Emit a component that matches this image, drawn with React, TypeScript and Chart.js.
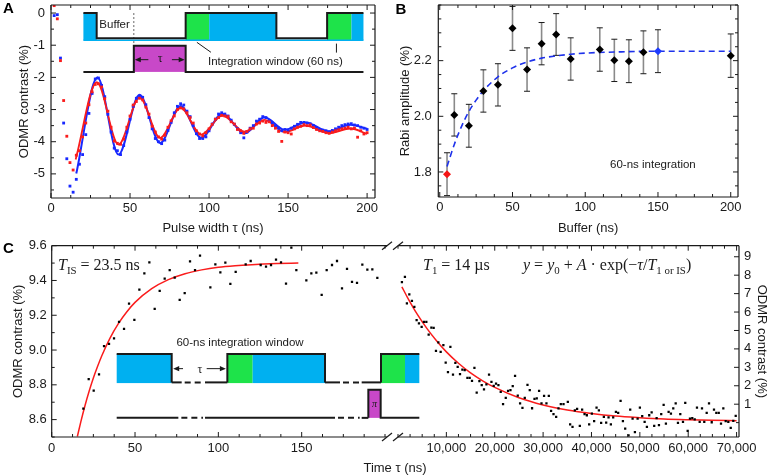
import React, { useEffect, useRef } from "react";
import { Chart, registerables } from "chart.js";

Chart.register(...registerables);

// ---------- Panel A: Rabi oscillations, two read-out settings ----------
const A_TAU = [
  2, 4, 6, 8, 10, 12, 14, 16, 18, 20, 22, 24, 26, 28, 30, 32, 34, 36, 38, 40,
  42, 44, 46, 48, 50, 52, 54, 56, 58, 60, 62, 64, 66, 68, 70, 72, 74, 76, 78, 80,
  82, 84, 86, 88, 90, 92, 94, 96, 98, 100, 102, 104, 106, 108, 110, 112, 114, 116, 118, 120,
  122, 124, 126, 128, 130, 132, 134, 136, 138, 140, 142, 144, 146, 148, 150, 152, 154, 156, 158, 160,
  162, 164, 166, 168, 170, 172, 174, 176, 178, 180, 182, 184, 186, 188, 190, 192, 194, 196, 198, 200,
];
const A_BLUE = [
  -0.08, -0.05, -1.4, -3.42, -4.53, -5.38, -5.57, -5.17, -4.7, -4.4, -3.78, -3.12, -2.5, -2.05, -2.02, -2.25, -2.6, -3.15, -3.7, -4.2,
  -4.28, -4.4, -4.12, -3.7, -3.3, -2.9, -2.65, -2.58, -2.62, -2.85, -3.25, -3.6, -3.9, -4.0, -4.06, -3.95, -3.65, -3.4, -3.1, -2.9,
  -2.82, -2.86, -3.05, -3.22, -3.5, -3.75, -3.9, -3.9, -3.85, -3.66, -3.45, -3.3, -3.14, -3.1, -3.14, -3.2, -3.33, -3.46, -3.6, -3.72,
  -3.88, -3.7, -3.58, -3.5, -3.36, -3.3, -3.22, -3.25, -3.34, -3.42, -3.5, -3.58, -3.66, -3.62, -3.66, -3.58, -3.52, -3.46, -3.4, -3.4,
  -3.42, -3.44, -3.5, -3.57, -3.62, -3.64, -3.66, -3.69, -3.65, -3.6, -3.55, -3.5, -3.47, -3.45, -3.44, -3.48, -3.5, -3.55, -3.58, -3.62,
];
const A_RED = [
  0.23, -0.18, -1.48, -2.72, -3.83, -4.65, -4.88, -4.42, -4.28, -3.85, -3.42, -2.85, -2.45, -2.22, -2.2, -2.3, -2.66, -3.05, -3.55, -3.98,
  -4.05, -4.08, -3.92, -3.55, -3.2, -2.86, -2.75, -2.65, -2.7, -2.92, -3.14, -3.52, -3.7, -3.85, -3.92, -3.8, -3.55, -3.35, -3.2, -3.0,
  -2.95, -2.98, -3.1, -3.25, -3.42, -3.66, -3.76, -3.82, -3.72, -3.6, -3.46, -3.3, -3.25, -3.18, -3.2, -3.22, -3.38, -3.45, -3.62, -3.66,
  -3.74, -3.68, -3.6, -3.58, -3.45, -3.42, -3.36, -3.4, -3.38, -3.5, -3.58, -3.68, -3.99, -3.7, -3.72, -3.76, -3.6, -3.55, -3.52, -3.47,
  -3.5, -3.48, -3.56, -3.62, -3.66, -3.68, -3.72, -3.74, -3.7, -3.66, -3.63, -3.6, -3.58, -3.55, -3.6, -3.58, -3.86, -3.66, -3.76, -3.72,
];
// fitted damped oscillations: turning points of each fit
const A_FIT_BLUE_TAU = [16, 29.4, 42.7, 56, 69, 82, 95, 108.5, 122.5, 135.2, 147.8, 161, 175.8, 189.5, 200];
const A_FIT_BLUE = [-4.99, -2.0, -4.4, -2.54, -4.04, -2.89, -3.88, -3.13, -3.74, -3.24, -3.63, -3.4, -3.68, -3.47, -3.6];
const A_FIT_RED_TAU = [15.6, 29, 42.7, 56, 69, 82, 95, 108.5, 122.5, 135.2, 147.8, 161, 176, 189.5, 200];
const A_FIT_RED = [-4.55, -2.15, -4.09, -2.62, -3.88, -2.95, -3.78, -3.19, -3.69, -3.32, -3.7, -3.5, -3.73, -3.59, -3.76];
const A_X_TICKS = [0, 50, 100, 150, 200];
const A_Y_TICKS = [-5, -4, -3, -2, -1, 0];

// ---------- Panel B: Rabi amplitude versus buffer length ----------
const B_BUFFER = [5, 10, 20, 30, 40, 50, 60, 70, 80, 90, 110, 120, 130, 140, 150, 200];
const B_AMP = [1.792, 2.005, 1.966, 2.091, 2.113, 2.316, 2.168, 2.261, 2.294, 2.206, 2.24, 2.201, 2.198, 2.23, 2.234, 2.218];
const B_ERR = [0.077, 0.076, 0.077, 0.076, 0.076, 0.079, 0.078, 0.076, 0.075, 0.076, 0.078, 0.076, 0.077, 0.077, 0.077, 0.078];
const B_RED_BUFFER = 5;
const B_BLUE_BUFFER = 150;
const B_FIT_T = [5, 10, 15, 20, 25, 30, 40, 50, 60, 70, 80, 90, 100, 120, 150, 200];
const B_FIT_V = [1.82, 1.899, 1.964, 2.017, 2.058, 2.092, 2.142, 2.174, 2.195, 2.209, 2.217, 2.223, 2.227, 2.231, 2.234, 2.234];
const B_X_TICKS = [0, 50, 100, 150, 200];
const B_Y_TICKS = [1.8, 2.0, 2.2];

// ---------- Panel C: contrast versus delay, short and long ranges ----------
const C_SHORT_T = [
  19, 22.2, 25.2, 28.4, 31.4, 34.4, 37.4, 40.4, 43.4, 46.4, 49.6, 52.6, 55.6, 58.6, 61.8, 64.8, 67.8, 70.8, 73.8, 76.8,
  79.8, 83, 86, 89, 95.2, 98.2, 101.2, 104.2, 107.2, 110.4, 116.4, 119.4, 125.4, 128.6, 131.6, 134.6, 137.6, 140.6, 143.8, 146.8,
  152.8, 155.8, 158.8, 162, 165, 168.2, 171.2, 174.2, 177.2, 180.2, 183.2, 186.4, 189.4, 192.4, 195.4,
];
const C_SHORT_V = [
  8.663, 8.833, 8.766, 8.86, 9.023, 9.036, 9.067, 9.162, 9.122, 9.267, 9.174, 9.348, 9.441, 9.504, 9.237, 9.34, 9.41, 9.459, 9.416, 9.288,
  9.327, 9.51, 9.46, 9.543, 9.361, 9.493, 9.447, 9.502, 9.38, 9.449, 9.493, 9.512, 9.489, 9.48, 9.489, 9.52, 9.504, 9.382, 9.589, 9.46,
  9.4, 9.441, 9.445, 9.317, 9.459, 9.489, 9.512, 9.355, 9.467, 9.392, 9.386, 9.491, 9.462, 9.464, 9.415,
];
const C_FIT_SHORT_T = [15.4, 17.5, 20, 22.5, 25, 27.5, 30, 35, 40, 45, 50, 60, 70, 80, 90, 100, 110, 120, 135, 148];
const C_FIT_SHORT_V = [8.503, 8.588, 8.681, 8.764, 8.839, 8.905, 8.966, 9.069, 9.152, 9.219, 9.274, 9.353, 9.405, 9.439, 9.461, 9.476, 9.485, 9.491, 9.497, 9.5];
const C_LONG_T = [
  810, 1430, 1840, 2340, 2880, 3380, 3850, 4330, 4890, 5360, 5860, 6340, 6900, 7370, 7850, 8340, 8820, 9380, 9860, 10330,
  10830, 11370, 11860, 12340, 12820, 13310, 13790, 14350, 14820, 15300, 15800, 16270, 16830, 17310, 17780, 18280, 18820, 19320, 19790, 20270,
  20760, 21240, 21720, 22280, 22750, 23250, 23720, 24200, 24760, 25240, 25730, 26210, 26770, 27240, 27720, 28220, 28690, 29170, 29670, 30200,
  30690, 31180, 31650, 32150, 32700, 33180, 33660, 34220, 35110, 35590, 36080, 36560, 37030, 37590, 38070, 38570, 39040, 39520, 40080, 40550,
  41050, 41530, 42000, 42560, 43040, 43530, 44010, 44490, 45050, 45520, 46020, 46500, 46970, 47670, 48010, 48500, 48980, 49540, 50010, 50490,
  50990, 51460, 51940, 52440, 52970, 53470, 53950, 54420, 54920, 55390, 55950, 56430, 56910, 57410, 57880, 58360, 58920, 59390, 59890, 60360,
  60840, 61340, 61810, 62370, 62850, 63320, 63820, 64300, 64860, 65330, 65810, 66310, 66780, 67260, 67750, 68290, 68790, 69320, 69820,
];
const C_LONG_V = [
  7.63, 7.91, 6.47, 6.96, 6.61, 6.28, 5.56, 5.38, 5.2, 5.47, 5.47, 4.78, 5.16, 5.14, 3.89, 4.35, 3.84, 4.2, 3.26, 2.74,
  4.11, 2.61, 3.24, 3.02, 2.63, 2.88, 2.85, 2.43, 2.43, 2.26, 2.97, 1.63, 2.25, 2.03, 1.8, 2.07, 2.61, 2.21, 1.99, 2.12,
  2.03, 1.67, 1.0, 1.34, 1.72, 1.76, 1.98, 2.54, 1.47, 1.04, 0.8, 1.34, 2.05, 1.76, 0.78, 1.29, 1.32, 1.72, 1.04, 1.45,
  1.04, 1.45, 0.64, 0.46, 0.31, 0.77, 1.0, 1.0, 1.12, -0.09, -0.23, 0.67, 0.74, -0.18, 0.71, 0.46, 0.4, -0.1, 0.49, 0.08,
  0.82, 0.67, -0.02, 0.31, 0.0, 0.28, -0.09, 0.28, 0.58, 0.53, 1.18, 0.08, -0.32, -0.69, 0.71, 0.22, -0.51, 0.22, 0.82, 0.35,
  0.04, -0.23, 0.4, 0.55, -0.18, 0.25, -0.13, 0.46, 0.96, -0.05, 0.58, 0.49, 0.77, 1.04, -0.02, 0.46, 0.04, 1.07, -0.45, 0.22,
  0.25, 0.17, 0.82, 0.04, 0.77, 0.04, 0.53, 1.04, 0.02, 0.71, 0.53, 0.53, -0.05, 0.77, 0.08, 0.04, -0.29, 0.09, 0.36,
];
const C_FIT_LONG_T = [800, 2000, 4000, 6000, 8000, 10000, 12500, 15000, 17500, 20000, 25000, 30000, 35000, 40000, 45000, 50000, 55000, 60000, 65000, 70000];
const C_FIT_LONG_V = [7.37, 6.77, 5.87, 5.1, 4.43, 3.84, 3.22, 2.7, 2.27, 1.91, 1.35, 0.96, 0.69, 0.5, 0.36, 0.27, 0.2, 0.157, 0.125, 0.102];
const C_SHORT_X_TICKS = [0, 50, 100, 150];
const C_SHORT_Y_TICKS = [8.6, 8.8, 9.0, 9.2, 9.4, 9.6];
const C_LONG_X_TICKS = [10000, 20000, 30000, 40000, 50000, 60000, 70000];
const C_LONG_Y_TICKS = [1, 2, 3, 4, 5, 6, 7, 8, 9];

// ---------- styling ----------
const W = 768;
const H = 476;
const INK = "#1a1a1a";
const SANS = "'Liberation Sans', Arial, Helvetica, sans-serif";
const SERIF = "'Liberation Serif', 'Times New Roman', serif";
const BLUE = "rgb(24, 40, 255)";
const RED = "rgb(250, 28, 28)";
const FIT_BLUE = "rgb(30, 50, 235)";
const CYAN = "#00b0f0";
const GREEN = "#1ee34a";
const MAGENTA = "#c848c8";
const TICK_FONT = { family: SANS, size: 13 };
const TITLE_FONT = { family: SANS, size: 13, lineHeight: 1 };
const NOTE_FONT = `11.5px ${SANS}`;

type Side = "top" | "bottom" | "left" | "right";
type TickSpec = { major: number[]; minorStep: number; sides: Side[] };
type FrameSpec = { lines: Side[]; x: TickSpec; y: TickSpec };

const pts = (xs: number[], ys: number[]) => xs.map((x, i) => ({ x, y: ys[i] }));

function axis(o: {
  position: Side;
  min: number;
  max: number;
  ticks: number[];
  size: number;
  tickPad: number;
  fmt: (v: number) => string;
  title?: string;
  titlePad?: { top: number; bottom: number };
}) {
  const horizontal = o.position === "top" || o.position === "bottom";
  return {
    type: "linear",
    position: o.position,
    min: o.min,
    max: o.max,
    grid: { display: false, drawTicks: false },
    border: { display: false },
    afterBuildTicks: (s: any) => {
      s.ticks = o.ticks.map((value) => ({ value }));
    },
    afterFit: (s: any) => {
      if (horizontal) s.height = o.size;
      else s.width = o.size;
      s.paddingLeft = 0;
      s.paddingRight = 0;
      s.paddingTop = 0;
      s.paddingBottom = 0;
    },
    ticks: {
      padding: o.tickPad,
      color: INK,
      font: TICK_FONT,
      autoSkip: false,
      maxRotation: 0,
      minRotation: 0,
      callback: (v: any) => o.fmt(Number(v)),
    },
    title: o.title
      ? { display: true, text: o.title, color: INK, font: TITLE_FONT, padding: o.titlePad }
      : { display: false },
  };
}

const common = {
  responsive: false,
  animation: false,
  devicePixelRatio: 1,
  events: [],
  plugins: { legend: { display: false }, tooltip: { enabled: false } },
};

function minorValues(scale: any, majors: number[], step: number) {
  const out: number[] = [];
  if (!step) return out;
  const first = Math.ceil(scale.min / step - 1e-6);
  for (let k = first; k * step <= scale.max + 1e-6; k++) {
    const v = k * step;
    if (!majors.some((m) => Math.abs(m - v) < step * 1e-3)) out.push(v);
  }
  return out;
}

function drawFrame(chart: any, spec: FrameSpec) {
  const { ctx, chartArea: a } = chart;
  ctx.save();
  ctx.strokeStyle = INK;
  ctx.lineWidth = 1.2;
  ctx.beginPath();
  if (spec.lines.includes("top")) { ctx.moveTo(a.left, a.top); ctx.lineTo(a.right, a.top); }
  if (spec.lines.includes("bottom")) { ctx.moveTo(a.left, a.bottom); ctx.lineTo(a.right, a.bottom); }
  if (spec.lines.includes("left")) { ctx.moveTo(a.left, a.top); ctx.lineTo(a.left, a.bottom); }
  if (spec.lines.includes("right")) { ctx.moveTo(a.right, a.top); ctx.lineTo(a.right, a.bottom); }
  ctx.stroke();
  ctx.lineWidth = 1;
  ctx.beginPath();
  const mark = (side: Side, p: number, len: number) => {
    if (side === "bottom") { ctx.moveTo(p, a.bottom); ctx.lineTo(p, a.bottom - len); }
    else if (side === "top") { ctx.moveTo(p, a.top); ctx.lineTo(p, a.top + len); }
    else if (side === "left") { ctx.moveTo(a.left, p); ctx.lineTo(a.left + len, p); }
    else { ctx.moveTo(a.right, p); ctx.lineTo(a.right - len, p); }
  };
  const pairs: [any, TickSpec][] = [[chart.scales.x, spec.x], [chart.scales.y, spec.y]];
  for (const [scale, t] of pairs) {
    const minors = minorValues(scale, t.major, t.minorStep);
    for (const side of t.sides) {
      for (const v of t.major) mark(side, scale.getPixelForValue(v), 5);
      for (const v of minors) mark(side, scale.getPixelForValue(v), 3);
    }
  }
  ctx.stroke();
  ctx.restore();
}

function panelLetter(ctx: CanvasRenderingContext2D, text: string, x: number, y: number) {
  ctx.save();
  ctx.fillStyle = "#000";
  ctx.font = `bold 15px ${SANS}`;
  ctx.textBaseline = "alphabetic";
  ctx.fillText(text, x, y);
  ctx.restore();
}

type Run = { t: string; it?: boolean; sub?: boolean };
function rich(ctx: CanvasRenderingContext2D, x: number, y: number, runs: Run[], size: number) {
  ctx.save();
  ctx.fillStyle = INK;
  ctx.textBaseline = "alphabetic";
  let cx = x;
  for (const r of runs) {
    const s = r.sub ? size * 0.68 : size;
    ctx.font = `${r.it ? "italic " : ""}${s}px ${SERIF}`;
    ctx.fillText(r.t, cx, r.sub ? y + size * 0.22 : y);
    cx += ctx.measureText(r.t).width;
  }
  ctx.restore();
}

function seg(ctx: CanvasRenderingContext2D, x1: number, y1: number, x2: number, y2: number) {
  ctx.beginPath();
  ctx.moveTo(x1, y1);
  ctx.lineTo(x2, y2);
  ctx.stroke();
}

function arrow(ctx: CanvasRenderingContext2D, x1: number, y: number, x2: number) {
  const dir = Math.sign(x2 - x1);
  seg(ctx, x1, y, x2 - dir * 4, y);
  ctx.beginPath();
  ctx.moveTo(x2, y);
  ctx.lineTo(x2 - dir * 6, y - 2.6);
  ctx.lineTo(x2 - dir * 6, y + 2.6);
  ctx.closePath();
  ctx.fill();
}

function breakMarks(ctx: CanvasRenderingContext2D, x: number, a: any) {
  ctx.save();
  ctx.strokeStyle = INK;
  ctx.lineWidth = 1.2;
  for (const y of [a.top, a.bottom]) seg(ctx, x - 5, y + 4, x + 5, y - 4);
  ctx.restore();
}

// pulse-sequence inset of panel A, placed in that panel's data units
const SEQ_A = {
  top: 0.0, low: -0.78, base: -0.845, mwLow: -1.83, mwHigh: -1.015,
  t0: 20.5, bufEnd: 28.9, mwOn: 52.4, readOn: 85.2, greenEnd: 100.1, readOff: 142.6,
  nextOn: 174.7, nextGreenEnd: 190.1, t1: 197.7,
};

function drawSeqA(chart: any) {
  const { ctx } = chart;
  const X = (v: number) => chart.scales.x.getPixelForValue(v);
  const Y = (v: number) => chart.scales.y.getPixelForValue(v);
  const s = SEQ_A;
  ctx.save();
  const box = (x0: number, x1: number, y0: number, y1: number, c: string) => {
    ctx.fillStyle = c;
    ctx.fillRect(X(x0), Y(y0), X(x1) - X(x0), Y(y1) - Y(y0));
  };
  box(s.t0, s.bufEnd, s.top, s.base, CYAN);
  box(s.readOn, s.greenEnd, s.top, s.base, GREEN);
  box(s.greenEnd, s.readOff, s.top, s.base, CYAN);
  box(s.nextOn, s.nextGreenEnd, s.top, s.base, GREEN);
  box(s.nextGreenEnd, s.t1, s.top, s.base, CYAN);
  ctx.strokeStyle = CYAN;
  ctx.lineWidth = 1.5;
  seg(ctx, X(s.t0), Y(s.base), X(s.t1), Y(s.base));
  box(s.mwOn, s.readOn, s.mwHigh, s.mwLow, MAGENTA);

  ctx.strokeStyle = "#666";
  ctx.lineWidth = 1;
  ctx.setLineDash([2, 2]);
  seg(ctx, X(s.mwOn), Y(s.top), X(s.mwOn), Y(s.mwLow));
  ctx.setLineDash([]);

  ctx.strokeStyle = INK;
  ctx.lineWidth = 2;
  ctx.lineJoin = "miter";
  const poly = (p: number[][]) => {
    ctx.beginPath();
    p.forEach(([x, y], i) => (i ? ctx.lineTo(X(x), Y(y)) : ctx.moveTo(X(x), Y(y))));
    ctx.stroke();
  };
  poly([
    [s.t0, s.top], [s.bufEnd, s.top], [s.bufEnd, s.low], [s.readOn, s.low], [s.readOn, s.top],
    [s.readOff, s.top], [s.readOff, s.low], [s.nextOn, s.low], [s.nextOn, s.top], [s.t1, s.top],
  ]);
  poly([
    [s.t0, s.mwLow], [s.mwOn, s.mwLow], [s.mwOn, s.mwHigh], [s.readOn, s.mwHigh],
    [s.readOn, s.mwLow], [s.t1, s.mwLow],
  ]);

  ctx.fillStyle = INK;
  ctx.strokeStyle = INK;
  ctx.lineWidth = 1;
  arrow(ctx, X(61.6), Y(-1.45), X(s.mwOn) + 1);
  arrow(ctx, X(76.5), Y(-1.45), X(s.readOn) - 1);
  ctx.font = `12px ${SERIF}`;
  ctx.textAlign = "center";
  ctx.textBaseline = "middle";
  ctx.fillText("τ", X(69.1), Y(-1.42));

  seg(ctx, X(92.3), Y(-0.91), X(101.2), Y(-1.22));
  seg(ctx, X(180.6), Y(-0.95), X(180.6), Y(-1.23));

  ctx.font = NOTE_FONT;
  ctx.textAlign = "left";
  ctx.fillText("Buffer", X(30.6), Y(-0.36));
  ctx.fillText("Integration window (60 ns)", X(99.3), Y(-1.51));
  ctx.restore();
}

// pulse-sequence inset of panel C, placed in the short-delay data units
const SEQ_C = {
  top: 8.977, base: 8.81, low: 8.814, mwLow: 8.61, mwHigh: 8.772,
  t0: 39, firstOff: 72, readOn: 105.4, greenEnd: 120.6, readOff: 164,
  nextOn: 197.6, nextGreenEnd: 212, t1: 220.6, piOn: 190, piOff: 197.4,
  gap1: [78, 92], gap2: [173, 186], mwGap1: [76, 92], mwGap2: [170, 186],
};

function drawSeqC(chart: any) {
  const { ctx } = chart;
  const X = (v: number) => chart.scales.x.getPixelForValue(v);
  const Y = (v: number) => chart.scales.y.getPixelForValue(v);
  const s = SEQ_C;
  ctx.save();
  const box = (x0: number, x1: number, y0: number, y1: number, c: string) => {
    ctx.fillStyle = c;
    ctx.fillRect(X(x0), Y(y0), X(x1) - X(x0), Y(y1) - Y(y0));
  };
  box(s.t0, s.firstOff, s.top, s.base, CYAN);
  box(s.readOn, s.greenEnd, s.top, s.base, GREEN);
  box(s.greenEnd, s.readOff, s.top, s.base, CYAN);
  box(s.nextOn, s.nextGreenEnd, s.top, s.base, GREEN);
  box(s.nextGreenEnd, s.t1, s.top, s.base, CYAN);
  box(s.piOn, s.piOff, s.mwHigh, s.mwLow, MAGENTA);

  ctx.strokeStyle = INK;
  ctx.lineWidth = 2;
  ctx.lineJoin = "miter";
  const poly = (p: number[][]) => {
    ctx.beginPath();
    p.forEach(([x, y], i) => (i ? ctx.lineTo(X(x), Y(y)) : ctx.moveTo(X(x), Y(y))));
    ctx.stroke();
  };
  const gapLine = (x0: number, x1: number, gap: number[], y: number) => {
    seg(ctx, X(x0), Y(y), X(gap[0]), Y(y));
    ctx.setLineDash([6, 4]);
    seg(ctx, X(gap[0]) + 3, Y(y), X(gap[1]) - 2, Y(y));
    ctx.setLineDash([]);
    seg(ctx, X(gap[1]), Y(y), X(x1), Y(y));
  };
  poly([[s.t0, s.top], [s.firstOff, s.top], [s.firstOff, s.low]]);
  gapLine(s.firstOff, s.readOn, s.gap1, s.low);
  poly([[s.readOn, s.low], [s.readOn, s.top], [s.readOff, s.top], [s.readOff, s.low]]);
  gapLine(s.readOff, s.nextOn, s.gap2, s.low);
  poly([[s.nextOn, s.low], [s.nextOn, s.top], [s.t1, s.top]]);

  gapLine(s.t0, s.mwGap2[0] - 0.01, s.mwGap1, s.mwLow);
  gapLine(s.mwGap2[0] - 0.01, s.piOn, s.mwGap2, s.mwLow);
  poly([[s.piOn, s.mwLow], [s.piOn, s.mwHigh], [s.piOff, s.mwHigh], [s.piOff, s.mwLow], [s.t1, s.mwLow]]);

  ctx.fillStyle = INK;
  ctx.lineWidth = 1;
  arrow(ctx, X(78.8), Y(8.893), X(s.firstOff) + 1.5);
  arrow(ctx, X(93), Y(8.893), X(s.readOn) - 1.5);
  ctx.textAlign = "center";
  ctx.textBaseline = "middle";
  ctx.font = `12px ${SERIF}`;
  ctx.fillText("τ", X(89), Y(8.889));
  ctx.font = `italic 10px ${SERIF}`;
  ctx.fillText("π", X((s.piOn + s.piOff) / 2), Y(8.69));
  ctx.font = NOTE_FONT;
  ctx.fillText("60-ns integration window", X(113), Y(9.043));
  ctx.restore();
}

function configA() {
  return {
    type: "scatter",
    data: {
      datasets: [
        { data: pts(A_TAU, A_RED), pointStyle: "rect", pointRadius: 2, backgroundColor: RED, borderWidth: 0, order: 1 },
        { data: pts(A_TAU, A_BLUE), pointStyle: "rect", pointRadius: 2, backgroundColor: BLUE, borderWidth: 0, order: 2 },
        {
          data: pts(A_FIT_RED_TAU, A_FIT_RED), showLine: true, pointRadius: 0, borderColor: RED,
          borderWidth: 1.8, cubicInterpolationMode: "monotone", order: 3,
        },
        {
          data: pts(A_FIT_BLUE_TAU, A_FIT_BLUE), showLine: true, pointRadius: 0, borderColor: BLUE,
          borderWidth: 2, cubicInterpolationMode: "monotone", order: 4,
        },
      ],
    },
    options: {
      ...common,
      layout: { padding: { left: 0, top: 5, right: 393, bottom: 241 } },
      scales: {
        x: axis({ position: "bottom", min: 0, max: 205, ticks: A_X_TICKS, size: 37, tickPad: 2.5, fmt: String, title: "Pulse width τ (ns)", titlePad: { top: 0, bottom: 0 } }),
        y: axis({ position: "left", min: -5.75, max: 0.25, ticks: A_Y_TICKS, size: 51, tickPad: 6, fmt: String, title: "ODMR contrast (%)", titlePad: { top: 18, bottom: 0 } }),
      },
    },
    plugins: [
      {
        id: "panelA",
        afterDraw: (c: any) => {
          drawFrame(c, {
            lines: ["top", "bottom", "left", "right"],
            x: { major: A_X_TICKS, minorStep: 12.5, sides: ["bottom", "top"] },
            y: { major: A_Y_TICKS, minorStep: 0.5, sides: ["left", "right"] },
          });
          drawSeqA(c);
          panelLetter(c.ctx, "A", 3, 13);
        },
      },
    ],
  };
}

function configB() {
  return {
    type: "scatter",
    data: {
      datasets: [
        {
          data: pts(B_BUFFER, B_AMP), pointStyle: "rectRot", pointRadius: 4, borderWidth: 0,
          backgroundColor: B_BUFFER.map((b) => (b === B_RED_BUFFER ? "rgb(245,20,20)" : b === B_BLUE_BUFFER ? "rgb(30,60,255)" : "#000")),
          order: 1,
        },
        {
          data: pts(B_FIT_T, B_FIT_V), showLine: true, pointRadius: 0, borderColor: FIT_BLUE, borderWidth: 1.6,
          borderDash: [6, 4], cubicInterpolationMode: "monotone", order: 2,
        },
      ],
    },
    options: {
      ...common,
      layout: { padding: { left: 395, top: 5, right: 30, bottom: 240 } },
      scales: {
        x: axis({ position: "bottom", min: -1, max: 205, ticks: B_X_TICKS, size: 39, tickPad: 3, fmt: String, title: "Buffer (ns)", titlePad: { top: 0, bottom: 1 } }),
        y: axis({ position: "left", min: 1.71, max: 2.4, ticks: B_Y_TICKS, size: 43.3, tickPad: 6.5, fmt: (v) => v.toFixed(1), title: "Rabi amplitude (%)", titlePad: { top: 3.5, bottom: 0 } }),
      },
    },
    plugins: [
      {
        id: "panelB",
        beforeDatasetsDraw: (c: any) => {
          const { ctx } = c;
          const X = (v: number) => c.scales.x.getPixelForValue(v);
          const Y = (v: number) => c.scales.y.getPixelForValue(v);
          ctx.save();
          B_BUFFER.forEach((b, i) => {
            const x = X(b);
            const y0 = Y(B_AMP[i] - B_ERR[i]);
            const y1 = Y(B_AMP[i] + B_ERR[i]);
            ctx.strokeStyle = "#8a8a8a";
            ctx.lineWidth = 1.6;
            seg(ctx, x, y0, x, y1);
            ctx.strokeStyle = INK;
            ctx.lineWidth = 1;
            seg(ctx, x - 3, y0, x + 3, y0);
            seg(ctx, x - 3, y1, x + 3, y1);
          });
          ctx.restore();
        },
        afterDraw: (c: any) => {
          drawFrame(c, {
            lines: ["top", "bottom", "left", "right"],
            x: { major: B_X_TICKS, minorStep: 12.5, sides: ["bottom", "top"] },
            y: { major: B_Y_TICKS, minorStep: 0.05, sides: ["left", "right"] },
          });
          const { ctx } = c;
          ctx.save();
          ctx.fillStyle = INK;
          ctx.font = NOTE_FONT;
          ctx.textAlign = "center";
          ctx.textBaseline = "middle";
          ctx.fillText("60-ns integration", c.scales.x.getPixelForValue(146.5), c.scales.y.getPixelForValue(1.826));
          ctx.restore();
          panelLetter(ctx, "B", 395.5, 13.5);
        },
      },
    ],
  };
}

function configCShort() {
  return {
    type: "scatter",
    data: {
      datasets: [
        { data: pts(C_SHORT_T, C_SHORT_V), pointStyle: "rect", pointRadius: 1.6, backgroundColor: "#000", borderWidth: 0, order: 1 },
        {
          data: pts(C_FIT_SHORT_T, C_FIT_SHORT_V), showLine: true, pointRadius: 0, borderColor: RED,
          borderWidth: 1.5, cubicInterpolationMode: "monotone", order: 2,
        },
      ],
    },
    options: {
      ...common,
      layout: { padding: { left: 0, top: 245.7, right: 381, bottom: 14 } },
      scales: {
        x: axis({ position: "bottom", min: 0, max: 201.2, ticks: C_SHORT_X_TICKS, size: 25, tickPad: 3.5, fmt: String }),
        y: axis({ position: "left", min: 8.5, max: 9.6, ticks: C_SHORT_Y_TICKS, size: 51.7, tickPad: 5, fmt: (v) => v.toFixed(1), title: "ODMR contrast (%)", titlePad: { top: 12, bottom: 0 } }),
      },
    },
    plugins: [
      {
        id: "panelCShort",
        afterDraw: (c: any) => {
          drawFrame(c, {
            lines: ["top", "bottom", "left"],
            x: { major: C_SHORT_X_TICKS, minorStep: 12.5, sides: ["bottom", "top"] },
            y: { major: C_SHORT_Y_TICKS, minorStep: 0.1, sides: ["left"] },
          });
          drawSeqC(c);
          breakMarks(c.ctx, c.chartArea.right, c.chartArea);
          rich(c.ctx, 58, 270, [{ t: "T", it: true }, { t: "IS", sub: true }, { t: " = 23.5 ns" }], 16);
          const { ctx } = c;
          ctx.save();
          ctx.fillStyle = INK;
          ctx.font = `13px ${SANS}`;
          ctx.textAlign = "center";
          ctx.textBaseline = "middle";
          ctx.fillText("Time τ (ns)", 395, 468);
          ctx.restore();
          panelLetter(ctx, "C", 3, 253);
        },
      },
    ],
  };
}

function configCLong() {
  return {
    type: "scatter",
    data: {
      datasets: [
        { data: pts(C_LONG_T, C_LONG_V), pointStyle: "rect", pointRadius: 1.6, backgroundColor: "#000", borderWidth: 0, order: 1 },
        {
          data: pts(C_FIT_LONG_T, C_FIT_LONG_V), showLine: true, pointRadius: 0, borderColor: RED,
          borderWidth: 1.5, cubicInterpolationMode: "monotone", order: 2,
        },
      ],
    },
    options: {
      ...common,
      layout: { padding: { left: 398, top: 245.7, right: 0, bottom: 14 } },
      scales: {
        x: axis({ position: "bottom", min: 0, max: 70500, ticks: C_LONG_X_TICKS, size: 25, tickPad: 3.5, fmt: (v) => v.toLocaleString("en-US") }),
        y: axis({ position: "right", min: -0.78, max: 9.6, ticks: C_LONG_Y_TICKS, size: 29, tickPad: 5, fmt: String, title: "ODMR contrast (%)", titlePad: { top: 0, bottom: 0 } }),
      },
    },
    plugins: [
      {
        id: "panelCLong",
        afterDraw: (c: any) => {
          drawFrame(c, {
            lines: ["top", "bottom", "right"],
            x: { major: C_LONG_X_TICKS, minorStep: 2500, sides: ["bottom", "top"] },
            y: { major: C_LONG_Y_TICKS, minorStep: 1, sides: ["right"] },
          });
          breakMarks(c.ctx, c.chartArea.left, c.chartArea);
          rich(c.ctx, 423, 270, [{ t: "T", it: true }, { t: "1", sub: true }, { t: " = 14 µs" }], 16);
          rich(c.ctx, 523, 270, [
            { t: "y", it: true }, { t: " = " }, { t: "y", it: true }, { t: "0", sub: true }, { t: " + " },
            { t: "A", it: true }, { t: " · exp(−" }, { t: "τ", it: true }, { t: "/" }, { t: "T", it: true },
            { t: "1 or IS", sub: true }, { t: ")" },
          ], 16);
        },
      },
    ],
  };
}

export default function App() {
  const refA = useRef<HTMLCanvasElement>(null);
  const refB = useRef<HTMLCanvasElement>(null);
  const refC1 = useRef<HTMLCanvasElement>(null);
  const refC2 = useRef<HTMLCanvasElement>(null);

  useEffect(() => {
    const charts = [
      new Chart(refA.current as HTMLCanvasElement, configA() as any),
      new Chart(refB.current as HTMLCanvasElement, configB() as any),
      new Chart(refC1.current as HTMLCanvasElement, configCShort() as any),
      new Chart(refC2.current as HTMLCanvasElement, configCLong() as any),
    ];
    return () => charts.forEach((c) => c.destroy());
  }, []);

  const canvasStyle: React.CSSProperties = { position: "absolute", left: 0, top: 0 };
  return (
    <div style={{ position: "fixed", left: 0, top: 0, width: W, height: H, background: "#fff", overflow: "hidden" }}>
      <canvas ref={refA} width={W} height={H} style={canvasStyle} />
      <canvas ref={refB} width={W} height={H} style={canvasStyle} />
      <canvas ref={refC1} width={W} height={H} style={canvasStyle} />
      <canvas ref={refC2} width={W} height={H} style={canvasStyle} />
    </div>
  );
}
